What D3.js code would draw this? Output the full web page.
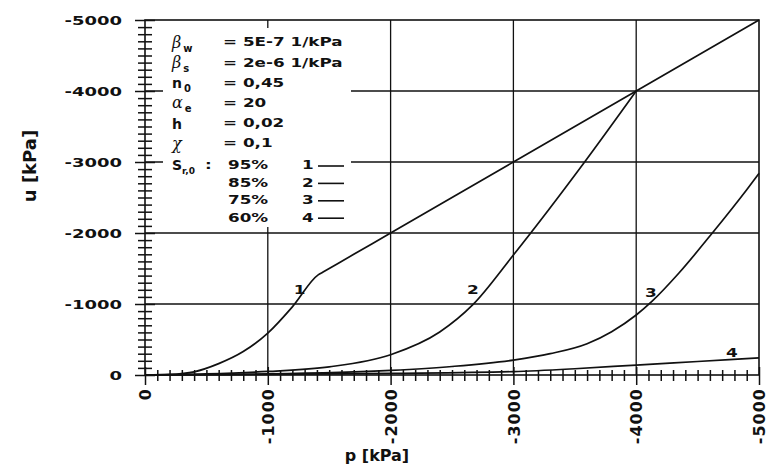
<!DOCTYPE html>
<html>
  <head>
    <meta charset="utf-8">
    <style>
    body { margin: 0; background: #fff; }
    svg { display: block; }
    .lbl { font-family: "DejaVu Sans", sans-serif; font-weight: bold; fill: #111; }
    .greek { font-family: "DejaVu Serif", serif; font-style: italic; fill: #111; }
    </style>
  </head>
  <body>
    <div id="chart-area"></div>

    <script src="https://d3js.org/d3.v7.min.js"></script>
    <script>
      // curve values (p and u in kPa, suction negative)
      const p1 = [0, -200, -400, -600, -800, -1000, -1200, -1410, -1450, -1700, -2000, -3000, -4000, -5000];
      const u1 = [0, -8, -45, -160, -330, -590, -960, -1410, -1450, -1700, -2000, -3000, -4000, -5000];
      const p2 = [0, -500, -1000, -1500, -2000, -2400, -2670, -3000, -3580, -4000];
      const u2 = [0, -15, -50, -115, -285, -605, -990, -1690, -3000, -4000];
      const p3 = [0, -1000, -2000, -2500, -3000, -3300, -3600, -3800, -4000, -4130, -4350, -4620, -4900, -5000];
      const u3 = [0, -15, -65, -120, -210, -300, -440, -610, -845, -1040, -1440, -2000, -2610, -2840];
      const p4 = [0, -1000, -2000, -3000, -3500, -4000, -4500, -5000];
      const u4 = [0, -8, -22, -48, -88, -140, -190, -240];

      const curveIds = ["1", "2", "3", "4"];
      const saturation = ["95%", "85%", "75%", "60%"];
      // where the curve numbers sit, in data units
      const curveLabelP = [-1260, -2670, -4120, -4780];
      const curveLabelU = [-1200, -1200, -1170, -320];

      const paramSymbols = ["β", "β", "n", "α", "h", "χ"];
      const paramSubs = ["w", "s", "0", "e", "", ""];
      const paramValues = ["= 5E-7 1/kPa", "= 2e-6 1/kPa", "= 0,45", "= 20", "= 0,02", "= 0,1"];

      const majorTicks = [0, -1000, -2000, -3000, -4000, -5000];
      const minorTicks = d3.range(0, -5001, -100);

      const width = 768;
      const height = 473;

      const svg = d3.select("#chart-area")
        .append("svg")
          .attr("width", width)
          .attr("height", height);

      const x = d3.scaleLinear().domain([0, -5000]).range([145, 759]);
      const y = d3.scaleLinear().domain([0, -5000]).range([375, 20]);

      // grid
      svg.append("g").selectAll("line.v")
        .data(majorTicks.slice(1, -1))
        .enter().append("line")
          .attr("x1", d => x(d)).attr("x2", d => x(d))
          .attr("y1", y(0)).attr("y2", y(-5000))
          .attr("stroke", "#111").attr("stroke-width", 1.3);
      svg.append("g").selectAll("line.h")
        .data(majorTicks.slice(1, -1))
        .enter().append("line")
          .attr("x1", x(0)).attr("x2", x(-5000))
          .attr("y1", d => y(d)).attr("y2", d => y(d))
          .attr("stroke", "#111").attr("stroke-width", 1.3);

      // legend box hides the grid behind it
      svg.append("rect")
        .attr("x", 163).attr("y", 28)
        .attr("width", 188).attr("height", 199)
        .attr("fill", "#fff");

      // frame
      svg.append("rect")
        .attr("x", x(0)).attr("y", y(-5000))
        .attr("width", x(-5000) - x(0)).attr("height", y(0) - y(-5000))
        .attr("fill", "none").attr("stroke", "#111").attr("stroke-width", 1.6);

      // curves
      const line = d3.line()
        .x(d => x(d[0]))
        .y(d => y(d[1]))
        .curve(d3.curveMonotoneX);

      [[p1, u1], [p2, u2], [p3, u3], [p4, u4]].forEach(([ps, us]) => {
        svg.append("path")
          .datum(ps.map((p, i) => [p, us[i]]))
          .attr("d", line)
          .attr("fill", "none")
          .attr("stroke", "#111")
          .attr("stroke-width", 1.7);
      });

      // minor/major ticks crossing the axes
      const yTicks = svg.append("g")
        .attr("transform", `translate(${x(0)},0)`)
        .call(d3.axisLeft(y).tickValues(minorTicks).tickFormat("").tickSizeOuter(0));
      yTicks.select(".domain").remove();
      yTicks.selectAll(".tick line")
        .attr("x1", d => d % 1000 === 0 ? -10 : -7)
        .attr("x2", d => d % 1000 === 0 ? 10 : 7)
        .attr("stroke", "#111").attr("stroke-width", 1.5);

      const xTicks = svg.append("g")
        .attr("transform", `translate(0,${y(0)})`)
        .call(d3.axisBottom(x).tickValues(minorTicks).tickFormat("").tickSizeOuter(0));
      xTicks.select(".domain").remove();
      xTicks.selectAll(".tick line")
        .attr("y1", d => d % 1000 === 0 ? -8 : -5)
        .attr("y2", d => d % 1000 === 0 ? 10 : 6)
        .attr("stroke", "#111").attr("stroke-width", 1.5);

      // tick labels
      const yLabels = svg.append("g")
        .attr("transform", `translate(${x(0)},0)`)
        .call(d3.axisLeft(y).tickValues(majorTicks).tickSize(0).tickFormat(d => String(d)));
      yLabels.select(".domain").remove();
      yLabels.selectAll("text")
        .attr("class", "lbl")
        .attr("font-size", 12)
        .attr("x", -23 / 1.5)
        .attr("dy", "0.36em")
        .attr("transform", "scale(1.5,1)");

      const xLabels = svg.append("g")
        .attr("transform", `translate(0,${y(0)})`)
        .call(d3.axisBottom(x).tickValues(majorTicks).tickSize(0).tickFormat(d => String(d)));
      xLabels.select(".domain").remove();
      xLabels.selectAll("text")
        .attr("class", "lbl")
        .attr("font-size", 16)
        .attr("letter-spacing", 1)
        .attr("text-anchor", "end")
        .attr("x", -13)
        .attr("y", 0)
        .attr("dy", "0.36em")
        .attr("transform", "rotate(-90)");

      // axis titles
      svg.append("text")
        .attr("class", "lbl")
        .attr("font-size", 18)
        .attr("text-anchor", "middle")
        .attr("transform", "translate(36,166) rotate(-90)")
        .text("u [kPa]");

      svg.append("text")
        .attr("class", "lbl")
        .attr("font-size", 16)
        .attr("text-anchor", "middle")
        .attr("x", 377).attr("y", 461)
        .text("p [kPa]");

      // horizontally stretched text, like the scanned original
      function wideText(tx, ty, str, size) {
        return svg.append("text")
          .attr("class", "lbl")
          .attr("font-size", size || 12)
          .attr("dy", "0.36em")
          .attr("transform", `translate(${tx},${ty}) scale(1.4,1)`)
          .text(str);
      }

      // parameter block
      paramSymbols.forEach((s, i) => {
        const cy = 42 + i * 20.2;
        const t = svg.append("text")
          .attr("x", 172).attr("y", cy).attr("dy", "0.36em");
        t.append("tspan")
          .attr("class", s === "h" || s === "n" ? "lbl" : "greek")
          .attr("font-size", s === "h" || s === "n" ? 14 : 16)
          .text(s);
        if (paramSubs[i]) {
          t.append("tspan")
            .attr("class", "lbl")
            .attr("font-size", 10)
            .attr("dx", 2).attr("dy", 4)
            .text(paramSubs[i]);
        }
        wideText(223, cy, paramValues[i]);
      });

      // saturation rows
      const sRow = 165;
      const sText = svg.append("text")
        .attr("class", "lbl")
        .attr("x", 172).attr("y", sRow).attr("dy", "0.36em")
        .attr("font-size", 14);
      sText.append("tspan").text("S");
      sText.append("tspan").attr("font-size", 9).attr("dy", 4).text("r,0");
      wideText(205, sRow, ":");

      saturation.forEach((s, i) => {
        const cy = sRow + i * 17.4;
        wideText(228, cy, s);
        wideText(302, cy, curveIds[i]);
        svg.append("line")
          .attr("x1", 318).attr("x2", 344)
          .attr("y1", cy + 1).attr("y2", cy + 1)
          .attr("stroke", "#111").attr("stroke-width", 1.6);
      });

      // curve numbers
      curveIds.forEach((c, i) => {
        svg.append("text")
          .attr("class", "lbl")
          .attr("font-size", 13)
          .attr("text-anchor", "middle")
          .attr("dy", "0.36em")
          .attr("transform", `translate(${x(curveLabelP[i])},${y(curveLabelU[i])}) scale(1.3,1)`)
          .text(c);
      });
    </script>
  </body>
</html>
